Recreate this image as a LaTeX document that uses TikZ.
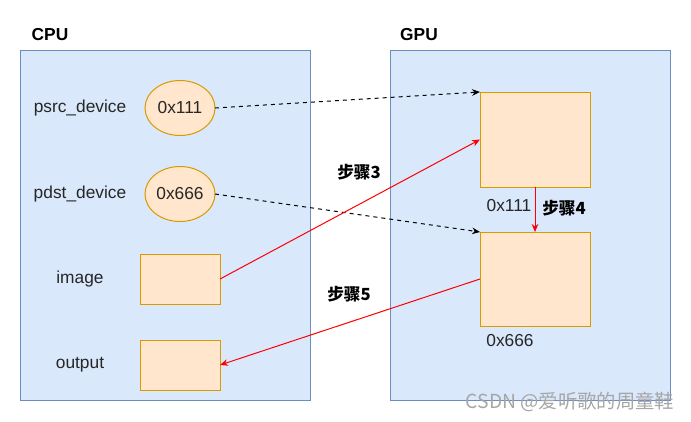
\documentclass[tikz,border=0pt]{standalone}
\usepackage{fontspec}
\setmainfont{Liberation Sans}
\newfontfamily\cjk{Noto Sans CJK SC}
\usetikzlibrary{arrows.meta,shapes.geometric}
\definecolor{memfill}{HTML}{DAE8FC}
\definecolor{memline}{HTML}{6C8EBF}
\definecolor{buffill}{HTML}{FFE6CC}
\definecolor{bufline}{HTML}{D79B00}
\tikzset{
  mem/.style={draw=memline, fill=memfill, line width=0.75pt, inner sep=0, outer sep=0},
  buf/.style={draw=bufline, fill=buffill, line width=0.75pt, inner sep=0, outer sep=0},
  ptr/.style={buf, ellipse, minimum width=52.5pt, minimum height=41.25pt},
  lbl/.style={font=\fontsize{13}{15}\selectfont, text=black!85},
  title/.style={font=\fontsize{13}{15}\selectfont\bfseries},
  stepname/.style={font=\fontsize{12.5}{15}\selectfont\cjk\bfseries},
  link/.style={line width=0.75pt, -{Stealth[length=6pt,width=5pt]}},
}
\begin{document}
\begin{tikzpicture}[x=0.75pt, y=-0.75pt]
\useasboundingbox (0,0) rectangle (691,421);
% memories
\node[mem, minimum width=217.5pt, minimum height=262.5pt] (cpu) at (165,225) {};
\node[mem, minimum width=210pt, minimum height=262.5pt] (gpu) at (530,225) {};
\node[title] (cputxt) at (50,35) {CPU};
\node[title] (gputxt) at (419,35) {GPU};

% host side
\node[lbl] (psrc) at (80,108) {psrc\_device};
\node[lbl] (pdst) at (80,194) {pdst\_device};
\node[lbl] (imgtxt) at (80,279) {image};
\node[lbl] (outtxt) at (80,365) {output};
\node[ptr, lbl] (p1) at (180,108) {0x111};
\node[ptr, lbl] (p2) at (180,194) {0x666};
\node[buf, minimum width=60pt, minimum height=37.5pt] (img) at (180,279) {};
\node[buf, minimum width=60pt, minimum height=37.5pt] (out) at (180,365) {};

% device side
\node[buf, minimum width=82.5pt, minimum height=71.25pt] (d1) at (535,139.5) {};
\node[buf, minimum width=82.5pt, minimum height=70.5pt] (d2) at (535,279) {};
\node[lbl] (a1) at (509,206) {0x111};
\node[lbl] (a2) at (510,341) {0x666};

\node[stepname] (s3) at (359,172) {步骤3};
\node[stepname] (s4) at (564,208) {步骤4};
\node[stepname] (s5) at (349,294) {步骤5};

\path[draw,link,dashed] (p1.east) -- (d1.north west);
\path[draw,link,dashed] (p2.east) -- (d2.north west);
\path[draw=red,link] (img.east) -- (d1.west);
\path[draw=red,link] (d1.south) -- (d2.north);
\path[draw=red,link] (d2.west) -- (out.east);

\node[font=\fontsize{14.5}{16}\selectfont\cjk, text=black!35] (mark) at (570,402) {CSDN @爱听歌的周童鞋};
\end{tikzpicture}
\end{document}
